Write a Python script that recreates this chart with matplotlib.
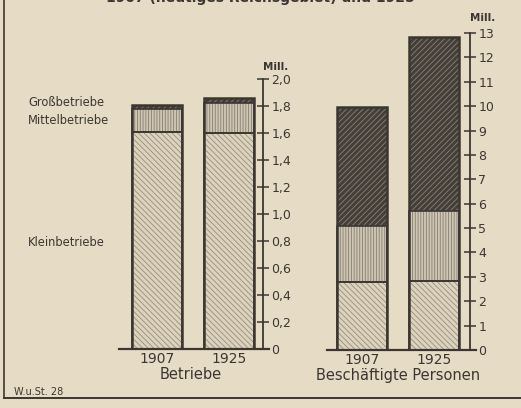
"""
Betriebe und Beschäftigte Personen nach Betriebsgröße, 1907 und 1925 (W.u.St. 28).
"""

import matplotlib.pyplot as plt

plt.rcParams["hatch.linewidth"] = 0.6

years = ["1907", "1925"]
betriebe_klein = [1.61, 1.60]
betriebe_mittel = [0.165, 0.22]
betriebe_gross = [0.035, 0.037]
personen_klein = [2.80, 2.82]
personen_mittel = [2.28, 2.86]
personen_gross = [4.87, 7.17]
betriebe_ticks = [0, 0.2, 0.4, 0.6, 0.8, 1.0, 1.2, 1.4, 1.6, 1.8, 2.0]
betriebe_labels = ["0", "0,2", "0,4", "0,6", "0,8", "1,0", "1,2", "1,4", "1,6", "1,8", "2,0"]
personen_ticks = list(range(0, 14))

BG = "#e6dcc6"
INK = "#3b3631"
W, H = 521, 408

fig = plt.figure(figsize=(W / 100, H / 100), dpi=100, facecolor=BG)


def px_axes(x0, x1, y_top, y_zero):
    return fig.add_axes([x0 / W, 1 - y_zero / H, (x1 - x0) / W, (y_zero - y_top) / H])


def stack(ax, klein, mittel, gross):
    x = range(len(years))
    bottoms_g = [k + m for k, m in zip(klein, mittel)]
    totals = [a + b for a, b in zip(bottoms_g, gross)]
    # fills with hatching (hatch colour comes from edgecolor, so no outline here)
    ax.bar(x, klein, width=0.69, color="#ddd3bd", edgecolor="#958d80",
           hatch="\\\\\\\\\\\\", linewidth=0)
    ax.bar(x, mittel, bottom=klein, width=0.69, color="#cfc5b1", edgecolor="#857e72",
           hatch="||||||", linewidth=0)
    ax.bar(x, gross, bottom=bottoms_g, width=0.69, color="#433e38", edgecolor="#8a8276",
           hatch="//////", linewidth=0)
    # segment borders and outline
    ax.bar(x, klein, width=0.69, fill=False, edgecolor=INK, linewidth=1.2)
    ax.bar(x, mittel, bottom=klein, width=0.69, fill=False, edgecolor=INK, linewidth=1.2)
    ax.bar(x, totals, width=0.69, fill=False, edgecolor=INK, linewidth=1.8)


def style(ax, ymax, ticks, labels, unit_y):
    ax.set_facecolor("none")
    for s in ("top", "left", "bottom"):
        ax.spines[s].set_visible(False)
    ax.spines["right"].set_color(INK)
    ax.spines["right"].set_linewidth(1.3)
    ax.set_ylim(0, ymax)
    ax.yaxis.tick_right()
    ax.set_yticks(ticks)
    ax.set_yticklabels(labels)
    ax.tick_params(axis="y", direction="inout", length=8, width=1.1, color=INK,
                   labelcolor=INK, labelsize=9, pad=2)
    ax.tick_params(axis="x", length=0, labelcolor=INK, labelsize=10, pad=2)
    ax.set_xticks(range(len(years)))
    ax.set_xticklabels(years)
    ax.axhline(0, color=INK, linewidth=1.6, xmin=0, xmax=1.04, clip_on=False)
    ax.text(1.0, unit_y, "Mill.", transform=ax.transAxes, ha="left", va="bottom",
            fontsize=7.5, color=INK, fontweight="bold")


# Betriebe
ax1 = px_axes(119, 263, 79, 349)
stack(ax1, betriebe_klein, betriebe_mittel, betriebe_gross)
ax1.set_xlim(-0.528, 1.472)
style(ax1, 2.0, betriebe_ticks, betriebe_labels, 1.025)
ax1.set_xlabel("Betriebe", color=INK, fontsize=10.5, labelpad=1)

# Beschäftigte Personen
ax2 = px_axes(327, 470, 33, 350)
stack(ax2, personen_klein, personen_mittel, personen_gross)
ax2.set_xlim(-0.48, 1.49)
style(ax2, 13, personen_ticks, [str(t) for t in personen_ticks], 1.03)
ax2.set_xlabel("Beschäftigte Personen", color=INK, fontsize=10.5, labelpad=1)

# category labels on the left
fig.text(28 / W, 1 - 103 / H, "Großbetriebe", fontsize=8.3, color=INK, va="center")
fig.text(28 / W, 1 - 121 / H, "Mittelbetriebe", fontsize=8.3, color=INK, va="center")
fig.text(28 / W, 1 - 243 / H, "Kleinbetriebe", fontsize=8.3, color=INK, va="center")
fig.text(14 / W, 1 - 392 / H, "W.u.St. 28", fontsize=7, color=INK, va="center")

# title, cut off at the top edge in the scan
fig.text(0.5, 1.005, "1907 (heutiges Reichsgebiet) und 1925", fontsize=10,
         fontweight="bold", color=INK, ha="center", va="center")

# frame lines of the scan
fig.add_artist(plt.Line2D([4 / W, 4 / W], [1 - 398 / H, 1], color=INK, linewidth=1.2))
fig.add_artist(plt.Line2D([4 / W, 1], [1 - 398 / H, 1 - 398 / H], color=INK, linewidth=1.4))

fig.savefig("out.png", dpi=100, facecolor=BG)
